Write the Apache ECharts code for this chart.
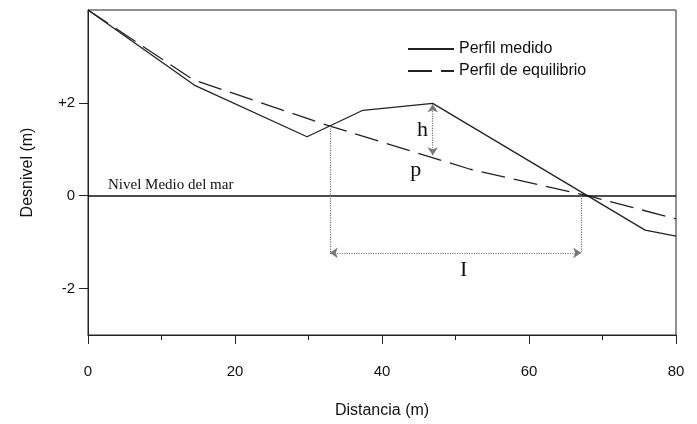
<!DOCTYPE html>
<html>
<head>
<meta charset="utf-8">
<script src="https://cdn.jsdelivr.net/npm/echarts@6/dist/echarts.min.js"></script>
<style>
  html, body { margin: 0; padding: 0; background: #fff; }
  #perfil { width: 697px; height: 424px; }
</style>
</head>
<body>
<div id="perfil"></div>
<script>
// perfil medido (m)
const distMedido = [0, 14.6, 29.8, 37.4, 46.9, 75.8, 80];
const cotaMedido = [4.0, 2.37, 1.27, 1.84, 1.99, -0.74, -0.87];
// perfil de equilibrio (m)
const distEquilibrio = [0, 14.3, 32.5, 52.0, 68.0, 80];
const cotaEquilibrio = [4.0, 2.5, 1.52, 0.57, 0.0, -0.5];
// ticks
const ticksY = [-2, 0, 2];
// anotaciones: h (altura de la barra), l (longitud)
const xBarraIni = 32.9, xBarraFin = 67.1, xCresta = 46.9;
const yCresta = 1.97, yEquilCresta = 0.87, yCotaL = -1.23, yEquilIni = 1.5;

const ink = '#222';
const sans = 'Liberation Sans, Arial, sans-serif';
const serif = 'Liberation Serif, Times New Roman, serif';
const dotted = { color: '#777', type: 'dotted', width: 1.2 };

function pares(xs, ys) { return xs.map((x, i) => [x, ys[i]]); }

let chart = echarts.init(document.getElementById('perfil'));
let option = {
  animation: false,
  grid: { left: 88, right: 21, top: 10, bottom: 84, show: true, borderColor: ink, borderWidth: 1 },
  legend: {
    orient: 'vertical', left: 402, top: 36, itemWidth: 46, itemHeight: 10, itemGap: 6,
    itemStyle: { opacity: 0 },
    textStyle: { fontFamily: sans, fontSize: 16, color: '#111' },
    data: ['Perfil medido', 'Perfil de equilibrio']
  },
  xAxis: {
    type: 'value', min: 0, max: 80, interval: 20,
    name: 'Distancia (m)', nameLocation: 'middle', nameGap: 68,
    nameTextStyle: { fontFamily: sans, fontSize: 16, color: '#111' },
    axisLine: { onZero: false, lineStyle: { color: ink } },
    axisTick: { inside: false, length: 9, lineStyle: { color: ink } },
    minorTick: { show: true, splitNumber: 2, length: 5, lineStyle: { color: ink } },
    axisLabel: { margin: 29, fontFamily: sans, fontSize: 15, color: '#111' },
    splitLine: { show: false }
  },
  yAxis: {
    type: 'value', min: -3, max: 4,
    name: 'Desnivel (m)', nameLocation: 'middle', nameGap: 52,
    nameTextStyle: { fontFamily: sans, fontSize: 16, color: '#111' },
    axisLine: { onZero: false, lineStyle: { color: ink } },
    axisTick: { inside: false, length: 9, customValues: ticksY, lineStyle: { color: ink } },
    axisLabel: {
      customValues: ticksY, margin: 13, fontFamily: sans, fontSize: 15, color: '#111',
      formatter: v => (v > 0 ? '+' + v : '' + v)
    },
    splitLine: { show: false }
  },
  series: [
    {
      name: 'Perfil medido', type: 'line', symbol: 'none',
      lineStyle: { color: ink, width: 1.3 }, itemStyle: { color: ink },
      data: pares(distMedido, cotaMedido),
      markLine: {
        silent: true, symbol: 'none',
        lineStyle: { color: '#111', type: 'solid', width: 1.5 },
        label: {
          position: 'insideStartTop', distance: [20, 3],
          formatter: 'Nivel Medio del mar',
          fontFamily: serif, fontSize: 15, color: '#111'
        },
        data: [{ yAxis: 0 }]
      }
    },
    {
      name: 'Perfil de equilibrio', type: 'line', symbol: 'none',
      lineStyle: { color: ink, width: 1.3, type: [24, 9] }, itemStyle: { color: ink },
      data: pares(distEquilibrio, cotaEquilibrio)
    },
    {
      name: 'anotaciones', type: 'line', data: [], silent: true,
      markLine: {
        silent: true, symbol: 'none', lineStyle: dotted, label: { show: false },
        data: [
          [{ coord: [xBarraIni, yEquilIni] }, { coord: [xBarraIni, yCotaL] }],
          [{ coord: [xBarraFin, 0] }, { coord: [xBarraFin, yCotaL] }],
          [{ coord: [xBarraIni, yCotaL], symbol: 'arrow' }, { coord: [xBarraFin, yCotaL], symbol: 'arrow' }],
          [{ coord: [xCresta, yEquilCresta], symbol: 'arrow' }, { coord: [xCresta, yCresta], symbol: 'arrow' }]
        ],
        symbolSize: 8
      },
      markPoint: {
        silent: true, symbol: 'circle', symbolSize: 0,
        label: { show: true, fontFamily: serif, fontSize: 22, color: '#111' },
        data: [
          { coord: [45.5, 1.4], label: { formatter: 'h' } },
          { coord: [44.6, 0.55], label: { formatter: 'p' } },
          { coord: [51.1, -1.6], label: { formatter: 'I' } }
        ]
      }
    }
  ]
};
chart.setOption(option);
</script>
</body>
</html>
